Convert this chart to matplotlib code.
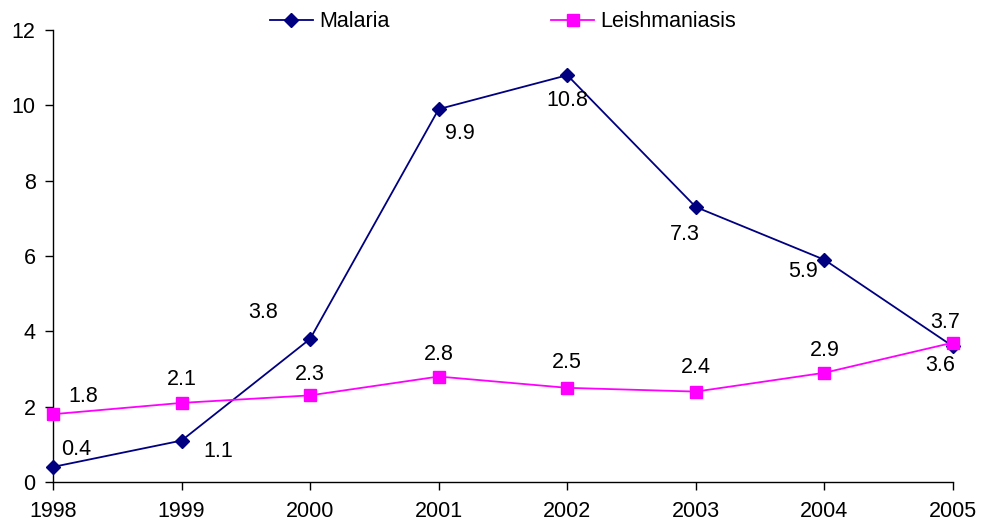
import matplotlib
matplotlib.use("Agg")
import matplotlib.pyplot as plt

plt.rcParams['font.family'] = ['Liberation Sans', 'DejaVu Sans']

years = [1998, 1999, 2000, 2001, 2002, 2003, 2004, 2005]
malaria = [0.4, 1.1, 3.8, 9.9, 10.8, 7.3, 5.9, 3.6]
leish = [1.8, 2.1, 2.3, 2.8, 2.5, 2.4, 2.9, 3.7]

mal_offsets = [(23, 17), (37, -11), (-47, 26), (21, -24), (0, -25), (-11, -27), (-21, -12), (-13, -19)]
lei_offsets = [(30, 18), (0, 23), (0, 21), (0, 22), (0, 25), (0, 24), (0, 22), (-8, 20)]

FS = 15.5

fig = plt.figure(figsize=(9.85, 5.25), dpi=100)
ax = fig.add_axes([53/985, 43/525, 900/985, 452/525])

ax.plot(years, malaria, color='#000080', marker='D', markersize=7.5, lw=1.3,
        label='Malaria', clip_on=False, zorder=3)
ax.plot(years, leish, color='#FF00FF', marker='s', markersize=8.5, lw=1.3,
        label='Leishmaniasis', clip_on=False, zorder=4)

for x, y, (dx, dy) in zip(years, malaria, mal_offsets):
    ax.annotate(f"{y}", (x, y), xytext=(dx, dy), textcoords='offset pixels',
                ha='center', va='center', fontsize=FS)
for x, y, (dx, dy) in zip(years, leish, lei_offsets):
    ax.annotate(f"{y}", (x, y), xytext=(dx, dy), textcoords='offset pixels',
                ha='center', va='center', fontsize=FS)

ax.set_xlim(1998, 2005)
ax.set_ylim(0, 12)
ax.set_yticks(range(0, 13, 2))
ax.set_xticks(years)
ax.tick_params(axis='both', labelsize=FS, direction='out', length=5.5, width=1)
ax.tick_params(axis='y', pad=7)
ax.tick_params(axis='x', pad=8)
for s in ['top', 'right']:
    ax.spines[s].set_visible(False)
for s in ['left', 'bottom']:
    ax.spines[s].set_linewidth(1)

leg = ax.legend(loc='center', bbox_to_anchor=(0.5, 1.018), ncol=2, frameon=False,
                fontsize=FS, columnspacing=7.5, handlelength=2.0, handletextpad=0.3,
                borderaxespad=0)

fig.savefig('out.png', dpi=100)
